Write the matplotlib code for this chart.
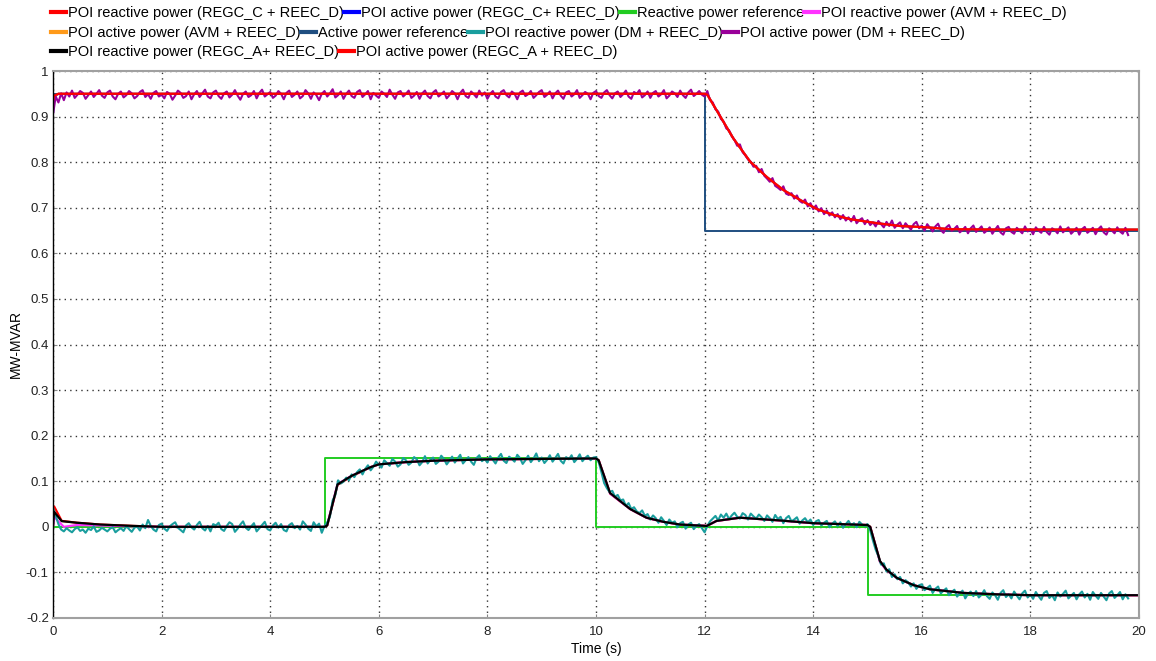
import numpy as np
import matplotlib
matplotlib.use("Agg")
import matplotlib.pyplot as plt
from matplotlib.lines import Line2D

plt.rcParams['font.family'] = ['Liberation Sans', 'DejaVu Sans']

# ---------------- data ----------------
# Reference signals
q_ref_t = [0, 5, 5, 10, 10, 15, 15, 20]
q_ref_v = [0, 0, 0.15, 0.15, 0, 0, -0.15, -0.15]
p_ref_t = [0, 12, 12, 20]
p_ref_v = [0.95, 0.95, 0.65, 0.65]

# REGC_A + REEC_D reactive power (black)
qa_t = [0, 0.02, 0.16, 0.44, 0.87, 1.48, 2.0, 5.0, 5.05, 5.24, 5.5, 5.85, 6.0, 6.5, 7.0, 8.0, 9.0, 10.0,
        10.05, 10.26, 10.63, 10.93, 11.24, 11.55, 12.04, 12.22, 12.65, 13.39, 14.0, 15.0, 15.05, 15.23,
        15.35, 15.54, 15.85, 16.15, 16.77, 17.38, 18.0, 20.0]
qa_v = [0, 0.033, 0.0125, 0.009, 0.005, 0.002, 0.0, 0.0, 0.003, 0.093, 0.112, 0.131, 0.137, 0.142, 0.145,
        0.148, 0.149, 0.150, 0.146, 0.074, 0.039, 0.020, 0.011, 0.005, 0.002, 0.013, 0.020, 0.014, 0.008,
        0.004, 0.000, -0.075, -0.094, -0.112, -0.128, -0.137, -0.145, -0.148, -0.150, -0.150]
# REGC_C + REEC_D reactive power (red)
qc_t = qa_t
qc_v = [0, 0.045, 0.013, 0.009, 0.005, 0.002, 0.0, 0.0, 0.003, 0.092, 0.111, 0.131, 0.137, 0.142, 0.145,
        0.148, 0.149, 0.150, 0.146, 0.073, 0.039, 0.020, 0.011, 0.005, 0.002, 0.013, 0.020, 0.014, 0.008,
        0.004, 0.000, -0.076, -0.095, -0.112, -0.128, -0.137, -0.145, -0.148, -0.150, -0.150]
# AVM + REEC_D reactive power (magenta)
qm_t = [0, 0.02, 0.2, 0.44, 0.87, 1.48, 2.0, 5.0, 5.05, 5.24, 5.5, 5.85, 6.0, 6.5, 7.0, 8.0, 9.0, 10.0,
        10.05, 10.26, 10.63, 10.93, 11.24, 11.55, 12.04, 12.22, 12.65, 13.39, 14.0, 15.0, 15.05, 15.23,
        15.35, 15.54, 15.85, 16.15, 16.77, 17.38, 18.0, 20.0]
qm_v = [0, 0.022, 0.0, 0.004, 0.003, 0.001, 0.0, 0.0, 0.004, 0.094, 0.112, 0.131, 0.137, 0.142, 0.145,
        0.148, 0.149, 0.150, 0.145, 0.073, 0.039, 0.020, 0.011, 0.005, 0.002, 0.013, 0.020, 0.014, 0.008,
        0.004, -0.001, -0.077, -0.095, -0.112, -0.128, -0.137, -0.145, -0.148, -0.150, -0.150]

# Active power traces (REGC_A red, REGC_C blue, AVM orange)
pa_t = [0, 0.02, 0.1, 12.0, 12.05, 12.22, 12.53, 12.84, 13.15, 13.45, 13.76, 14.07, 14.38, 14.68, 15.18,
        15.6, 16.1, 16.52, 17.5, 20.0]
pa_v = [0.935, 0.946, 0.950, 0.950, 0.948, 0.914, 0.852, 0.801, 0.767, 0.739, 0.717, 0.697, 0.684, 0.675,
        0.666, 0.660, 0.657, 0.653, 0.652, 0.652]
pc_v = [0.910, 0.944, 0.950, 0.950, 0.948, 0.914, 0.852, 0.801, 0.767, 0.739, 0.717, 0.697, 0.684, 0.675,
        0.666, 0.660, 0.657, 0.653, 0.652, 0.652]
pm_v = [0.920, 0.945, 0.950, 0.950, 0.948, 0.914, 0.852, 0.801, 0.767, 0.739, 0.717, 0.697, 0.684, 0.675,
        0.666, 0.660, 0.657, 0.653, 0.652, 0.652]

# DM + REEC_D traces, sampled every 0.05 s from 0 to 19.8 s
dm_q = [
    0.042, 0.024, 0.006, -0.006, -0.010, -0.003, -0.008, -0.012, -0.005, -0.001, -0.009, -0.006, -0.013, -0.004, -0.007, 0.001, -0.011, -0.008, -0.002, -0.006,
    -0.010, -0.004, -0.001, -0.012, -0.007, -0.003, -0.009, 0.002, -0.005, -0.011, -0.002, 0.001, -0.008, 0.005, -0.003, 0.015, 0.002, -0.006, -0.010, 0.004,
    0.007, -0.004, -0.009, 0.001, 0.006, 0.010, -0.002, -0.007, -0.012, 0.003, 0.008, -0.001, -0.006, 0.004, 0.011, -0.003, -0.008, 0.002, -0.010, 0.006,
    0.003, 0.009, -0.005, -0.009, 0.002, 0.010, 0.006, -0.011, -0.004, 0.005, 0.012, -0.002, -0.007, 0.001, 0.008, -0.010, -0.003, 0.004, 0.011, -0.005,
    -0.008, 0.003, 0.009, -0.002, 0.006, -0.007, -0.010, 0.004, 0.008, -0.003, 0.002, -0.006, 0.012, 0.005, -0.004, -0.009, 0.010, 0.001, 0.007, -0.013,
    0.002, 0.010, 0.022, 0.058, 0.070, 0.102, 0.095, 0.099, 0.108, 0.102, 0.115, 0.109, 0.120, 0.126, 0.115, 0.127, 0.135, 0.124, 0.132, 0.143,
    0.136, 0.130, 0.146, 0.140, 0.134, 0.149, 0.143, 0.132, 0.137, 0.151, 0.146, 0.136, 0.141, 0.153, 0.148, 0.135, 0.142, 0.155, 0.139, 0.147,
    0.152, 0.138, 0.143, 0.156, 0.149, 0.137, 0.145, 0.154, 0.141, 0.150, 0.158, 0.139, 0.146, 0.153, 0.143, 0.136, 0.151, 0.157, 0.144, 0.149,
    0.141, 0.155, 0.147, 0.139, 0.152, 0.160, 0.145, 0.140, 0.154, 0.149, 0.143, 0.158, 0.151, 0.138, 0.146, 0.156, 0.142, 0.150, 0.161, 0.144,
    0.152, 0.140, 0.147, 0.157, 0.143, 0.151, 0.160, 0.145, 0.139, 0.153, 0.148, 0.157, 0.142, 0.149, 0.159, 0.144, 0.151, 0.156, 0.146, 0.152,
    0.153, 0.142, 0.120, 0.096, 0.085, 0.076, 0.079, 0.066, 0.070, 0.058, 0.060, 0.046, 0.052, 0.039, 0.043, 0.034, 0.030, 0.036, 0.024, 0.028,
    0.016, 0.025, 0.019, 0.009, 0.021, 0.013, 0.004, 0.016, 0.009, 0.012, -0.001, 0.008, 0.011, -0.004, 0.005, 0.009, -0.005, 0.002, 0.006, -0.003,
    -0.012, 0.002, 0.012, 0.018, 0.024, 0.014, 0.027, 0.020, 0.029, 0.017, 0.025, 0.031, 0.022, 0.018, 0.030, 0.026, 0.016, 0.029, 0.023, 0.018,
    0.027, 0.021, 0.013, 0.025, 0.019, 0.011, 0.026, 0.017, 0.022, 0.008, 0.019, 0.024, 0.012, 0.016, 0.021, 0.007, 0.014, 0.019, 0.010, 0.016,
    0.004, 0.012, 0.015, 0.003, 0.009, 0.013, -0.001, 0.007, 0.012, 0.002, 0.010, -0.002, 0.006, 0.013, 0.003, 0.008, -0.001, 0.011, 0.005, 0.002,
    0.006, -0.008, -0.030, -0.050, -0.064, -0.083, -0.080, -0.098, -0.093, -0.110, -0.104, -0.115, -0.110, -0.124, -0.117, -0.122, -0.131, -0.124, -0.136, -0.128,
    -0.126, -0.139, -0.134, -0.129, -0.145, -0.136, -0.131, -0.146, -0.140, -0.135, -0.150, -0.143, -0.138, -0.153, -0.146, -0.140, -0.157, -0.147, -0.142, -0.152,
    -0.141, -0.155, -0.149, -0.139, -0.152, -0.158, -0.144, -0.150, -0.160, -0.145, -0.139, -0.154, -0.148, -0.157, -0.142, -0.151, -0.159, -0.146, -0.140, -0.155,
    -0.149, -0.158, -0.143, -0.152, -0.160, -0.145, -0.141, -0.156, -0.150, -0.161, -0.144, -0.153, -0.147, -0.140, -0.157, -0.151, -0.145, -0.159, -0.148, -0.142,
    -0.155, -0.147, -0.160, -0.143, -0.151, -0.158, -0.145, -0.153, -0.161, -0.146, -0.141, -0.156, -0.150, -0.143, -0.159, -0.148, -0.157,
]
dm_p = [
    0.905, 0.944, 0.931, 0.951, 0.936, 0.953, 0.944, 0.957, 0.941, 0.948, 0.956, 0.952, 0.939, 0.947, 0.955, 0.943, 0.950, 0.958, 0.946, 0.941,
    0.953, 0.957, 0.944, 0.938, 0.950, 0.955, 0.942, 0.947, 0.956, 0.951, 0.940, 0.945, 0.954, 0.958, 0.943, 0.949, 0.939, 0.952, 0.956, 0.944,
    0.948, 0.940, 0.954, 0.950, 0.937, 0.946, 0.957, 0.952, 0.941, 0.945, 0.955, 0.938, 0.949, 0.956, 0.943, 0.951, 0.959, 0.944, 0.940, 0.953,
    0.957, 0.945, 0.939, 0.951, 0.955, 0.942, 0.948, 0.958, 0.946, 0.937, 0.950, 0.955, 0.943, 0.947, 0.956, 0.940, 0.952, 0.959, 0.944, 0.949,
    0.954, 0.941, 0.946, 0.956, 0.950, 0.938, 0.952, 0.957, 0.943, 0.948, 0.955, 0.940, 0.945, 0.958, 0.951, 0.939, 0.953, 0.947, 0.936, 0.950,
    0.956, 0.944, 0.951, 0.960, 0.942, 0.947, 0.955, 0.939, 0.950, 0.957, 0.945, 0.941, 0.954, 0.958, 0.943, 0.949, 0.956, 0.938, 0.952, 0.946,
    0.941, 0.955, 0.950, 0.943, 0.959, 0.948, 0.939, 0.953, 0.956, 0.944, 0.950, 0.957, 0.941, 0.946, 0.954, 0.939, 0.951, 0.957, 0.945, 0.940,
    0.953, 0.958, 0.944, 0.949, 0.955, 0.940, 0.947, 0.956, 0.951, 0.938, 0.952, 0.959, 0.945, 0.941, 0.955, 0.949, 0.942, 0.957, 0.946, 0.953,
    0.939, 0.950, 0.956, 0.944, 0.940, 0.954, 0.958, 0.947, 0.942, 0.955, 0.950, 0.938, 0.953, 0.957, 0.945, 0.949, 0.956, 0.941, 0.947, 0.954,
    0.958, 0.943, 0.948, 0.955, 0.940, 0.951, 0.957, 0.946, 0.939, 0.953, 0.956, 0.944, 0.949, 0.958, 0.941, 0.947, 0.954, 0.950, 0.938, 0.952,
    0.956, 0.945, 0.941, 0.953, 0.958, 0.947, 0.940, 0.951, 0.955, 0.943, 0.949, 0.957, 0.944, 0.939, 0.954, 0.950, 0.958, 0.942, 0.947, 0.955,
    0.941, 0.952, 0.956, 0.944, 0.949, 0.958, 0.940, 0.946, 0.955, 0.951, 0.943, 0.957, 0.947, 0.941, 0.953, 0.959, 0.945, 0.950, 0.956, 0.948,
    0.944, 0.956, 0.936, 0.931, 0.916, 0.911, 0.895, 0.889, 0.874, 0.870, 0.857, 0.849, 0.836, 0.839, 0.822, 0.815, 0.806, 0.801, 0.790, 0.792,
    0.778, 0.785, 0.770, 0.764, 0.757, 0.765, 0.748, 0.744, 0.739, 0.747, 0.731, 0.728, 0.732, 0.720, 0.727, 0.715, 0.711, 0.718, 0.703, 0.710,
    0.697, 0.705, 0.692, 0.699, 0.686, 0.694, 0.683, 0.690, 0.679, 0.686, 0.675, 0.684, 0.672, 0.679, 0.670, 0.682, 0.666, 0.673, 0.677, 0.664,
    0.673, 0.662, 0.668, 0.659, 0.671, 0.664, 0.657, 0.669, 0.660, 0.672, 0.656, 0.663, 0.668, 0.655, 0.666, 0.659, 0.652, 0.664, 0.669, 0.655,
    0.661, 0.650, 0.664, 0.656, 0.648, 0.659, 0.665, 0.651, 0.645, 0.657, 0.662, 0.649, 0.654, 0.660, 0.646, 0.651, 0.658, 0.644, 0.655, 0.661,
    0.647, 0.653, 0.659, 0.645, 0.650, 0.657, 0.643, 0.652, 0.660, 0.646, 0.641, 0.655, 0.658, 0.647, 0.643, 0.656, 0.650, 0.644, 0.659, 0.648,
    0.653, 0.642, 0.657, 0.650, 0.645, 0.658, 0.647, 0.641, 0.655, 0.651, 0.644, 0.659, 0.646, 0.652, 0.657, 0.643, 0.649, 0.656, 0.641, 0.653,
    0.658, 0.645, 0.650, 0.656, 0.642, 0.653, 0.659, 0.646, 0.641, 0.655, 0.650, 0.644, 0.657, 0.648, 0.643, 0.656, 0.640,
]
dmq_t = np.linspace(0, 19.8, len(dm_q))
dmp_t = np.linspace(0, 19.8, len(dm_p))

labels = [
    "POI reactive power (REGC_C + REEC_D)", "POI active power (REGC_C+ REEC_D)",
    "Reactive power reference", "POI reactive power (AVM + REEC_D)",
    "POI active power (AVM + REEC_D)", "Active power reference",
    "POI reactive power (DM + REEC_D)", "POI active power (DM + REEC_D)",
    "POI reactive power (REGC_A+ REEC_D)", "POI active power (REGC_A + REEC_D)",
]
colors = ["#ff0000", "#0000ff", "#22cc22", "#ff33ff", "#ff9a1a", "#1f4e80",
          "#1a9e9e", "#990099", "#000000", "#ff0000"]

# ---------------- figure ----------------
fig = plt.figure(figsize=(11.56, 6.61), dpi=100)
ax = fig.add_axes([53/1156, 1-618/661, (1139-53)/1156, (618-71)/661])

series = [
    (qc_t, qc_v, 1.6), (pa_t, pc_v, 1.6), (q_ref_t, q_ref_v, 1.4), (qm_t, qm_v, 1.6),
    (pa_t, pm_v, 1.6), (p_ref_t, p_ref_v, 1.4), (dmq_t, dm_q, 1.5), (dmp_t, dm_p, 1.5),
    (qa_t, qa_v, 1.6), (pa_t, pa_v, 1.6),
]
for (t, v, lw), c, lab in zip(series, colors, labels):
    ax.plot(t, v, color=c, lw=lw, label=lab)

ax.set_xlim(0, 20)
ax.set_ylim(-0.2, 1.0)
ax.set_xticks(np.arange(0, 21, 2))
ax.set_yticks(np.round(np.arange(-0.2, 1.01, 0.1), 1))
ax.yaxis.set_major_formatter(matplotlib.ticker.FuncFormatter(lambda v, p: f"{v:g}" if abs(v) > 1e-9 else "0"))
ax.grid(True, color="#333333", linestyle=(0, (1, 3)), linewidth=1.0)
ax.tick_params(direction='in', length=3, color='#888888', labelsize=9.5, labelcolor='#222222', pad=3)
ax.tick_params(axis='x', pad=6)
for s in ['top', 'right', 'bottom']:
    ax.spines[s].set_color('#a0a0a0')
    ax.spines[s].set_linewidth(1.5)
ax.spines['left'].set_color('#000000')
ax.spines['left'].set_linewidth(1.0)

ax.set_xlabel("Time (s)", fontsize=10, labelpad=3)
ax.set_ylabel("MW-MVAR", fontsize=10, labelpad=2)

# legend in three packed rows
handles = [Line2D([0], [0], color=c, lw=3) for c in colors]
rows = [(0, 4, 1 - 13.5/661), (4, 8, 1 - 33/661), (8, 10, 1 - 52/661)]
for a, b, y in rows:
    leg = fig.legend(handles[a:b], labels[a:b], loc='center left', bbox_to_anchor=(51/1156, y),
                     ncol=b - a, frameon=False, fontsize=10.5, columnspacing=0.0, handlelength=1.05,
                     handletextpad=0.12, borderpad=0, borderaxespad=0)

fig.savefig("out.png", dpi=100)
